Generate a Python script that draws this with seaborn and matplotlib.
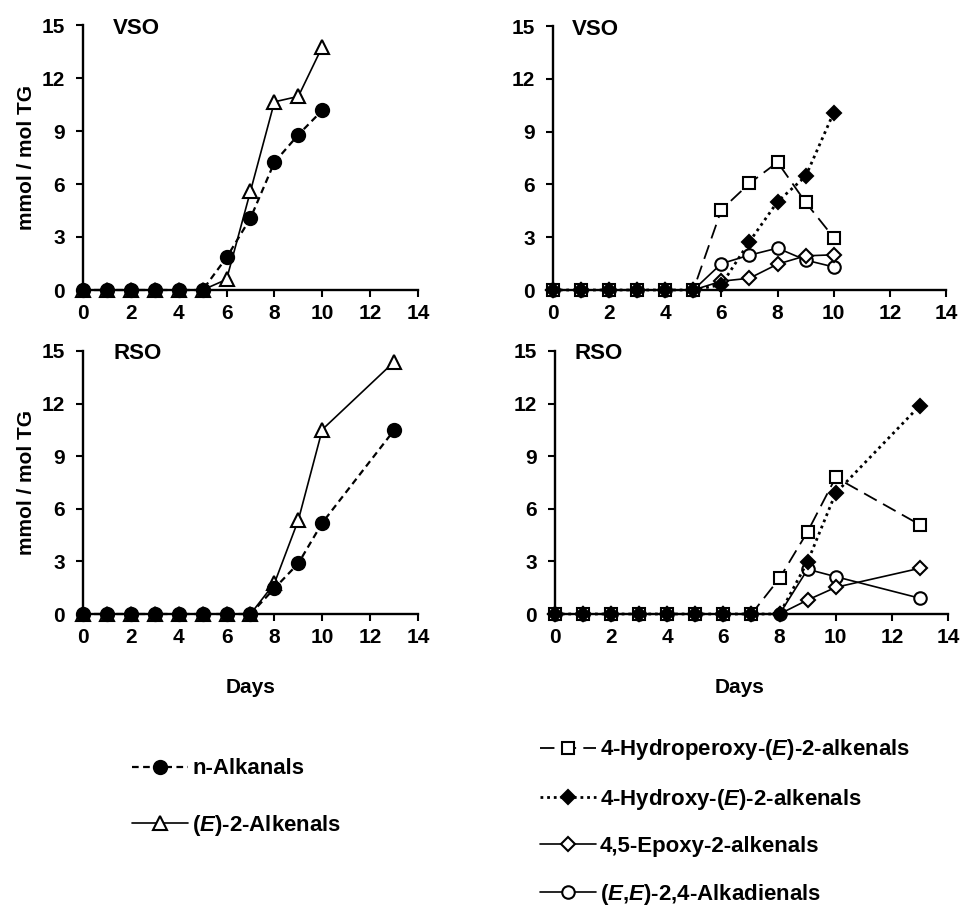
import matplotlib
matplotlib.use("Agg")
import matplotlib.pyplot as plt
import seaborn as sns

# Storage days sampled for each oil
days_vso = [0, 1, 2, 3, 4, 5, 6, 7, 8, 9, 10]
days_rso = [0, 1, 2, 3, 4, 5, 6, 7, 8, 9, 10, 13]

# VSO aldehydes (mmol / mol TG)
vso_alkanals = [0, 0, 0, 0, 0, 0, 1.84, 4.07, 7.23, 8.79, 10.17]
vso_alkenals = [0, 0, 0, 0, 0, 0, 0.6, 5.6, 10.65, 10.96, 13.77]
vso_hydroperoxy = [0, 0, 0, 0, 0, 0, 4.56, 6.06, 7.26, 4.98, 2.98]
vso_hydroxy = [0, 0, 0, 0, 0, 0, 0.3, 2.75, 5.02, 6.46, 10.08]
vso_epoxy = [0, 0, 0, 0, 0, 0, 0.5, 0.67, 1.47, 1.94, 2.0]
vso_alkadienals = [0, 0, 0, 0, 0, 0, 1.5, 1.98, 2.38, 1.7, 1.31]

# RSO aldehydes (mmol / mol TG)
rso_alkanals = [0, 0, 0, 0, 0, 0, 0, 0, 1.46, 2.89, 5.2, 10.48]
rso_alkenals = [0, 0, 0, 0, 0, 0, 0, 0, 1.75, 5.36, 10.52, 14.38]
rso_hydroperoxy = [0, 0, 0, 0, 0, 0, 0, 0, 2.04, 4.7, 7.79, 5.09]
rso_hydroxy = [0, 0, 0, 0, 0, 0, 0, 0, 0, 2.99, 6.9, 11.89]
rso_epoxy = [0, 0, 0, 0, 0, 0, 0, 0, 0, 0.8, 1.52, 2.61]
rso_alkadienals = [0, 0, 0, 0, 0, 0, 0, 0, 0, 2.55, 2.13, 0.9]

labels = {
    "alkanals": "n-Alkanals",
    "alkenals": r"($\mathit{E}$)-2-Alkenals",
    "hydroperoxy": r"4-Hydroperoxy-($\mathit{E}$)-2-alkenals",
    "hydroxy": r"4-Hydroxy-($\mathit{E}$)-2-alkenals",
    "epoxy": "4,5-Epoxy-2-alkenals",
    "alkadienals": r"($\mathit{E}$,$\mathit{E}$)-2,4-Alkadienals",
}

styles = {
    "alkanals": dict(marker="o", ms=9.5, mfc="black", ls=(0, (3, 2)), lw=1.6),
    "alkenals": dict(marker="^", ms=10, mfc="white", ls="-", lw=1.2),
    "hydroperoxy": dict(marker="s", ms=9, mfc="white", ls=(0, (8, 4)), lw=1.3),
    "hydroxy": dict(marker="D", ms=7, mfc="black", ls=(0, (1, 1.4)), lw=2.0),
    "epoxy": dict(marker="D", ms=7.5, mfc="white", ls="-", lw=1.2),
    "alkadienals": dict(marker="o", ms=9, mfc="white", ls="-", lw=1.2),
}

sns.set_theme(style="ticks")
plt.rcParams["font.family"] = ["Liberation Sans", "DejaVu Sans"]
plt.rcParams["font.weight"] = "bold"
plt.rcParams["axes.labelweight"] = "bold"
plt.rcParams["text.color"] = "black"
plt.rcParams["axes.labelcolor"] = "black"
plt.rcParams["xtick.color"] = "black"
plt.rcParams["ytick.color"] = "black"
plt.rcParams["mathtext.fontset"] = "custom"
plt.rcParams["mathtext.rm"] = "Liberation Sans:bold"
plt.rcParams["mathtext.it"] = "Liberation Sans:italic:bold"
plt.rcParams["mathtext.bf"] = "Liberation Sans:bold"

W, H = 962, 909
fig = plt.figure(figsize=(W / 100, H / 100), dpi=100)


def px_axes(left, right, top, bottom):
    return fig.add_axes([left / W, 1 - bottom / H, (right - left) / W, (bottom - top) / H])


ax_tl = px_axes(83, 418, 25, 290)
ax_tr = px_axes(553, 946, 26, 290)
ax_bl = px_axes(83, 418, 351, 614)
ax_br = px_axes(555, 948, 351, 614)


def draw(ax, days, series):
    handles = {}
    for key, values in series:
        st = styles[key]
        sns.lineplot(x=days, y=values, ax=ax, color="black",
                     marker=st["marker"], markersize=st["ms"],
                     markerfacecolor=st["mfc"], markeredgecolor="black",
                     markeredgewidth=1.5, linewidth=st["lw"],
                     clip_on=False, zorder=3)
        line = ax.lines[-1]
        line.set_linestyle(st["ls"])
        handles[key] = line
    return handles


h_left = draw(ax_tl, days_vso, [("alkenals", vso_alkenals), ("alkanals", vso_alkanals)])
draw(ax_bl, days_rso, [("alkenals", rso_alkenals), ("alkanals", rso_alkanals)])
h_right = draw(ax_tr, days_vso, [("alkadienals", vso_alkadienals), ("epoxy", vso_epoxy),
                                 ("hydroperoxy", vso_hydroperoxy), ("hydroxy", vso_hydroxy)])
draw(ax_br, days_rso, [("alkadienals", rso_alkadienals), ("epoxy", rso_epoxy),
                       ("hydroperoxy", rso_hydroperoxy), ("hydroxy", rso_hydroxy)])

for ax in (ax_tl, ax_tr, ax_bl, ax_br):
    ax.set_xlim(0, 14)
    ax.set_ylim(0, 15)
    ax.set_xticks(range(0, 15, 2))
    ax.set_yticks(range(0, 16, 3))
    for side in ("top", "right"):
        ax.spines[side].set_visible(False)
    for side in ("left", "bottom"):
        ax.spines[side].set_color("black")
        ax.spines[side].set_linewidth(1.7)
    ax.tick_params(axis="both", direction="out", length=5, width=1.5,
                   colors="black", labelsize=15)
    ax.tick_params(axis="x", pad=5)
    ax.tick_params(axis="y", pad=8)
    for lab in ax.get_xticklabels() + ax.get_yticklabels():
        lab.set_fontweight("bold")
    ax.set_xlabel("")
    ax.set_ylabel("")
    ax.set_facecolor("white")

for ax in (ax_tl, ax_bl):
    ax.set_ylabel("mmol / mol TG", fontsize=15, fontweight="bold", labelpad=4)
for ax in (ax_bl, ax_br):
    ax.set_xlabel("Days", fontsize=15, fontweight="bold")
ax_br.xaxis.set_label_coords((740 - 555) / 393, -0.243)
ax_bl.xaxis.set_label_coords(0.5, -0.243)

ax_tl.text(0.09, 0.985, "VSO", transform=ax_tl.transAxes, fontsize=16,
           fontweight="bold", va="center", ha="left")
ax_tr.text(0.048, 0.985, "VSO", transform=ax_tr.transAxes, fontsize=16,
           fontweight="bold", va="center", ha="left")
ax_bl.text(0.09, 0.99, "RSO", transform=ax_bl.transAxes, fontsize=16,
           fontweight="bold", va="center", ha="left")
ax_br.text(0.05, 0.99, "RSO", transform=ax_br.transAxes, fontsize=16,
           fontweight="bold", va="center", ha="left")

left_keys = ["alkanals", "alkenals"]
fig.legend([h_left[k] for k in left_keys], [labels[k] for k in left_keys],
           loc="center left", bbox_to_anchor=(132 / W, 1 - 798 / H),
           frameon=False, prop=dict(size=16, weight="bold"),
           handlelength=2.5, handletextpad=0.2, labelspacing=1.5,
           borderpad=0, borderaxespad=0, labelcolor="black")

right_keys = ["hydroperoxy", "hydroxy", "epoxy", "alkadienals"]
fig.legend([h_right[k] for k in right_keys], [labels[k] for k in right_keys],
           loc="center left", bbox_to_anchor=(540 / W, 1 - 822 / H),
           frameon=False, prop=dict(size=16, weight="bold"),
           handlelength=2.5, handletextpad=0.2, labelspacing=1.1,
           borderpad=0, borderaxespad=0, labelcolor="black")

fig.savefig("out.png", dpi=100, facecolor="white")
